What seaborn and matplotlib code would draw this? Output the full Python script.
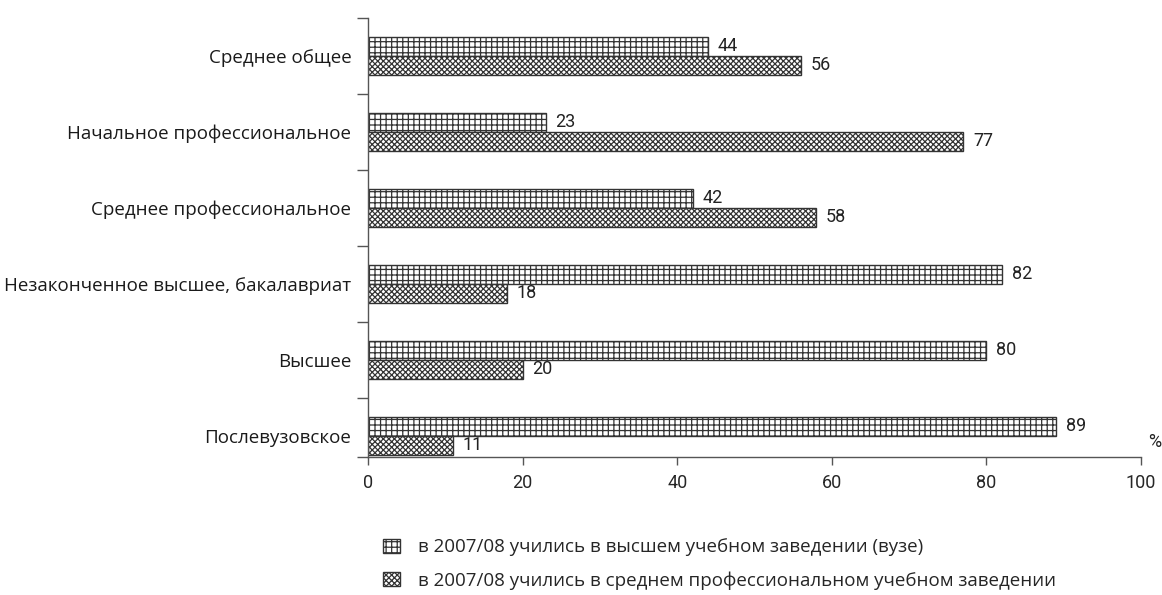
import pandas as pd
import matplotlib.pyplot as plt
import matplotlib.patches as mpatches
import seaborn as sns

# Данные
categories = ['Среднее общее', 'Начальное профессиональное', 'Среднее профессиональное',
              'Незаконченное высшее, бакалавриат', 'Высшее', 'Послевузовское']
vuz = [44, 23, 42, 82, 80, 89]
spo = [56, 77, 58, 18, 20, 11]
series = ['в 2007/08 учились в высшем учебном заведении (вузе)',
          'в 2007/08 учились в среднем профессиональном учебном заведении']
x_ticks = [0, 20, 40, 60, 80, 100]

df = pd.DataFrame({
    'cat': categories * 2,
    'val': vuz + spo,
    'ser': [series[0]] * len(categories) + [series[1]] * len(categories),
})

sns.set_theme(style='white')
plt.rcParams['font.family'] = ['Open Sans', 'DejaVu Sans']
plt.rcParams['hatch.linewidth'] = 0.9
narrow = ['Roboto', 'DejaVu Sans']

fig = plt.figure(figsize=(11.62, 5.95), dpi=100)
ax = fig.add_axes([0.3167, 0.232, 0.982 - 0.3167, 0.738])

sns.barplot(data=df, y='cat', x='val', hue='ser', order=categories, hue_order=series,
            orient='h', width=0.5, palette=['white', 'white'], edgecolor='#333333',
            linewidth=1, legend=False, ax=ax)

hatches = ['+++', 'xxxxxx']
for cont, h in zip(ax.containers, hatches):
    for p in cont:
        p.set_hatch(h)
    ax.bar_label(cont, padding=7, fontsize=13, color='#222222', family=narrow)

ax.set_xlim(0, 100)
ax.set_ylim(5.28, -0.5)
ax.set_xticks(x_ticks)
ax.set_xticklabels([str(v) for v in x_ticks], family=narrow, fontsize=13)
ax.set_xlabel('')
ax.set_ylabel('')
ax.tick_params(axis='x', length=6, width=1, color='#555555', pad=6,
               direction='out', bottom=True)
ax.tick_params(axis='y', length=0, labelsize=13.5, pad=12, labelcolor='#1a1a1a')
ax.set_yticks([i - 0.5 for i in range(6)] + [5.28], minor=True)
ax.tick_params(axis='y', which='minor', length=8, width=1, color='#555555', left=True)

for s in ['top', 'right']:
    ax.spines[s].set_visible(False)
for s in ['left', 'bottom']:
    ax.spines[s].set_color('#555555')
    ax.spines[s].set_linewidth(1)

fig.text(0.994, 0.257, '%', fontsize=13, ha='center', va='center', color='#222222',
         family=narrow)

handles = [mpatches.Patch(facecolor='white', edgecolor='#333333', hatch=h, label=s)
           for h, s in zip(hatches, series)]
fig.legend(handles=handles, loc='upper left', bbox_to_anchor=(0.323, 0.108), frameon=False,
           fontsize=13.5, labelspacing=0.8, handlelength=0.9, handleheight=0.75,
           handletextpad=0.95, borderaxespad=0)

fig.savefig('out.png', dpi=100)
